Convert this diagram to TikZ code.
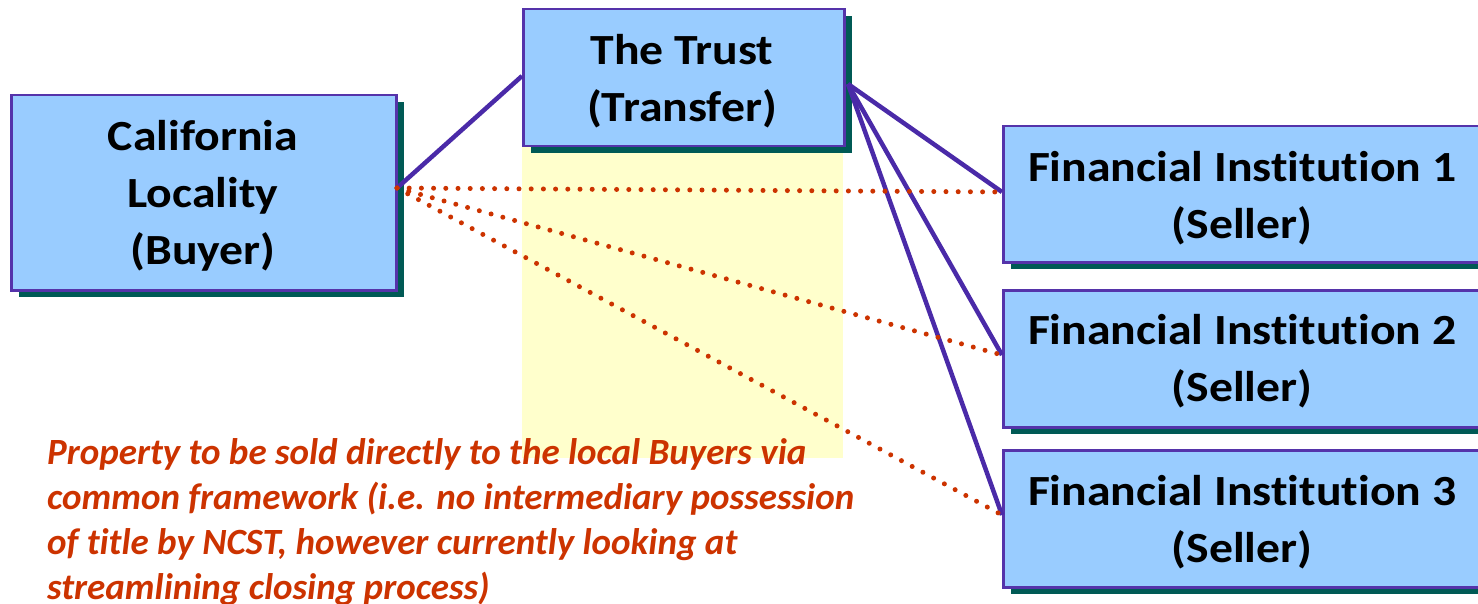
\documentclass[tikz,border=0pt]{standalone}
\usepackage{fontspec}
\setmainfont[Ligatures={NoCommon}]{Carlito}
\newfontfamily\boxfont[FakeStretch=1.11, Ligatures={NoCommon}]{Carlito}
\usetikzlibrary{shadows}
\definecolor{boxfill}{HTML}{99CCFF}
\definecolor{boxline}{HTML}{5533AA}
\definecolor{boxshade}{HTML}{005A55}
\definecolor{linkline}{HTML}{4A2AA8}
\definecolor{noteorange}{HTML}{CC3300}
\definecolor{bandyellow}{HTML}{FFFFCC}
\tikzset{
  party/.style={rectangle, draw=boxline, line width=2.5pt, fill=boxfill,
    anchor=north west, inner sep=0pt,
    general shadow={fill=boxshade, shadow xshift=8pt, shadow yshift=-7pt}},
  partytext/.style={align=center, inner sep=0pt,
    font=\boxfont\fontsize{43}{57}\selectfont\bfseries},
  solidlink/.style={draw=linkline, line width=4.5pt},
  dotlink/.style={draw=noteorange, line width=5pt, line cap=round,
    dash pattern=on 0pt off 12.2pt},
}
\begin{document}
\begin{tikzpicture}[x=1pt, y=-1pt]
  \useasboundingbox (0,0) rectangle (1478,604);
  \clip (0,0) rectangle (1478,604);
  % pale band under the trust
  \fill[bandyellow] (522,145) rectangle (843,458);
  % parties
  \node[party, minimum width=385pt, minimum height=195pt] (buyer) at (10,94) {};
  \node[party, minimum width=321pt, minimum height=137pt] (trust) at (522,8) {};
  \node[party, minimum width=500pt, minimum height=136pt] (fi1) at (1002,125) {};
  \node[party, minimum width=500pt, minimum height=137pt] (fi2) at (1002,289) {};
  \node[party, minimum width=500pt, minimum height=137pt] (fi3) at (1002,449) {};
  \node[partytext] (buyert) at (203,196) {California\\Locality\\(Buyer)};
  \node[partytext] (trustt) at (682,81) {The Trust\\(Transfer)};
  \node[partytext] (fi1t) at (1242,198) {Financial Institution 1\\(Seller)};
  \node[partytext] (fi2t) at (1242,361) {Financial Institution 2\\(Seller)};
  \node[partytext] (fi3t) at (1242,522) {Financial Institution 3\\(Seller)};
  % connection points on the box edges
  \coordinate (bR) at (397,188);
  \coordinate (tL) at (522,76);
  \coordinate (tR) at (848,84);
  \coordinate (f1) at (1002,192);
  \coordinate (f2) at (1002,355);
  \coordinate (f3) at (1002,515);
  % solid links through the trust
  \draw[solidlink] (bR) -- (tL);
  \draw[solidlink] (tR) -- (f1);
  \draw[solidlink] (tR) -- (f2);
  \draw[solidlink] (tR) -- (f3);
  % direct dotted links
  \draw[dotlink] (bR) -- (f1);
  \draw[dotlink] (bR) -- (f2);
  \draw[dotlink] (bR) -- (f3);
  % note
  \node[anchor=north west, align=left, text=noteorange,
    font=\fontsize{37}{45}\selectfont\bfseries\itshape, inner sep=0pt] (note) at (47,438)
    {Property to be sold directly to the local Buyers via\\
     common framework (i.e. no intermediary possession\\
     of title by NCST, however currently looking at\\
     streamlining closing process)};
\end{tikzpicture}
\end{document}
